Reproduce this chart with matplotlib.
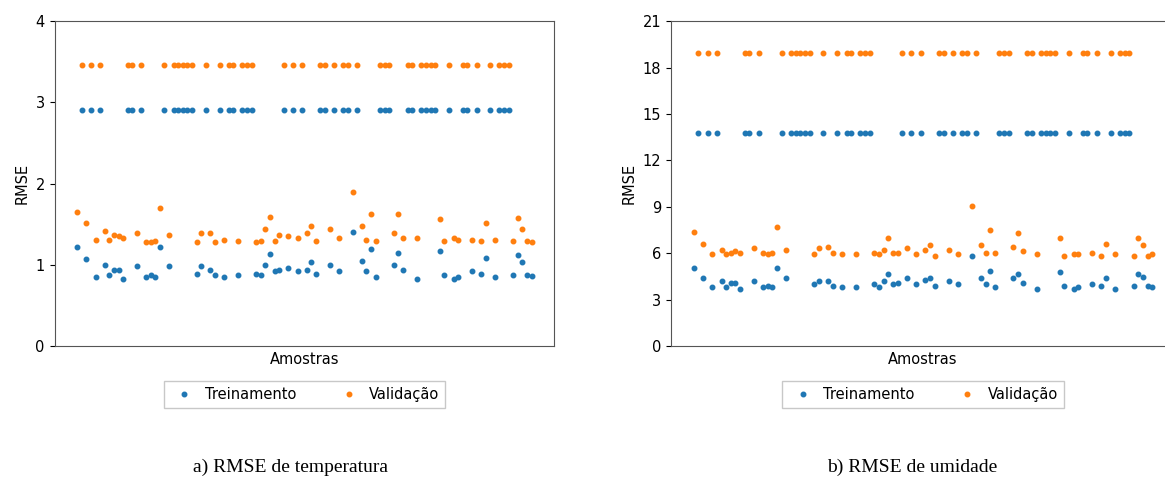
import numpy as np
import matplotlib
matplotlib.use("Agg")
import matplotlib.pyplot as plt

# 100 amostras; algumas ficam no patamar alto, as outras no baixo
n_amostras = 100
idx_alto = [1, 3, 5, 11, 12, 14, 19, 21, 22, 23, 24, 25, 28, 31, 33, 34, 36, 37, 38,
            45, 47, 49, 53, 54, 56, 58, 59, 61, 66, 67, 68, 72, 73, 75, 76, 77, 78,
            81, 84, 85, 87, 90, 92, 93, 94]

temp_treino_alto = 2.91
temp_valid_alto = 3.46
umid_treino_alto = 13.78
umid_valid_alto = 18.97

# valores das amostras restantes (em ordem de indice)
temp_treino_baixo = [1.22, 1.07, 0.85, 1.00, 0.87, 0.94, 0.94, 0.83, 0.98, 0.85, 0.87, 0.85,
                     1.22, 0.98, 0.89, 0.98, 0.94, 0.87, 0.85, 0.87, 0.89, 0.87, 1.00, 1.13,
                     0.92, 0.94, 0.96, 0.92, 0.94, 1.03, 0.89, 1.00, 0.92, 1.40, 1.05, 0.92,
                     1.19, 0.85, 1.00, 1.15, 0.94, 0.83, 1.17, 0.87, 0.83, 0.85, 0.92, 0.89,
                     1.08, 0.85, 0.87, 1.12, 1.04, 0.88, 0.86]
temp_valid_baixo = [1.65, 1.52, 1.31, 1.42, 1.30, 1.37, 1.35, 1.33, 1.39, 1.28, 1.28, 1.29,
                    1.70, 1.37, 1.28, 1.39, 1.39, 1.28, 1.31, 1.29, 1.28, 1.29, 1.44, 1.59,
                    1.29, 1.37, 1.35, 1.33, 1.39, 1.48, 1.29, 1.44, 1.33, 1.90, 1.48, 1.31,
                    1.63, 1.29, 1.39, 1.63, 1.33, 1.33, 1.57, 1.29, 1.33, 1.31, 1.31, 1.29,
                    1.52, 1.31, 1.29, 1.58, 1.44, 1.29, 1.28]
umid_treino_baixo = [5.06, 4.37, 3.79, 4.18, 3.79, 4.09, 4.09, 3.68, 4.18, 3.79, 3.90, 3.79,
                     5.06, 4.37, 3.98, 4.18, 4.18, 3.90, 3.79, 3.79, 3.98, 3.79, 4.18, 4.67,
                     3.98, 4.09, 4.37, 3.98, 4.26, 4.37, 3.90, 4.18, 3.98, 5.83, 4.37, 3.98,
                     4.87, 3.79, 4.37, 4.67, 4.09, 3.68, 4.76, 3.90, 3.68, 3.79, 3.98, 3.90,
                     4.37, 3.68, 3.90, 4.67, 4.48, 3.90, 3.79]
umid_valid_baixo = [7.36, 6.61, 5.92, 6.22, 5.92, 6.03, 6.12, 6.03, 6.31, 6.03, 5.92, 6.03,
                    7.67, 6.22, 5.92, 6.31, 6.41, 6.03, 5.92, 5.92, 6.03, 5.92, 6.22, 7.00,
                    6.03, 6.03, 6.31, 5.92, 6.22, 6.50, 5.83, 6.22, 5.92, 9.05, 6.50, 6.03,
                    7.47, 6.03, 6.41, 7.28, 6.12, 5.92, 7.00, 5.83, 5.92, 5.92, 6.03, 5.83,
                    6.61, 5.92, 5.83, 7.00, 6.50, 5.83, 5.92]

idx_baixo = [i for i in range(n_amostras) if i not in idx_alto]


def monta(alto, baixo):
    y = np.zeros(n_amostras)
    y[idx_alto] = alto
    y[idx_baixo] = baixo
    return y


x = np.arange(n_amostras)
fig = plt.figure(figsize=(11.65, 4.8), dpi=100)
ax1 = fig.add_axes([0.0468, 0.279, 0.429, 0.677])
ax2 = fig.add_axes([0.5758, 0.279, 0.433, 0.677])

paineis = [
    (ax1, monta(temp_treino_alto, temp_treino_baixo), monta(temp_valid_alto, temp_valid_baixo),
     [0, 1, 2, 3, 4]),
    (ax2, monta(umid_treino_alto, umid_treino_baixo), monta(umid_valid_alto, umid_valid_baixo),
     [0, 3, 6, 9, 12, 15, 18, 21]),
]

for ax, treino, valid, yt in paineis:
    ax.plot(x, treino, '.', color="#1f77b4", markersize=6.5, label="Treinamento")
    ax.plot(x, valid, '.', color="#ff7f0e", markersize=6.5, label="Validação")
    ax.set_ylim(yt[0], yt[-1])
    ax.set_yticks(yt)
    ax.set_xticks([])
    ax.tick_params(labelsize=10.5)
    ax.set_ylabel("RMSE", fontsize=10.5)
    ax.set_xlabel("Amostras", fontsize=10.5)
    for s in ax.spines.values():
        s.set_color("#555555")
    ax.legend(loc="upper center", bbox_to_anchor=(0.5, -0.085), ncol=2, fontsize=10.5,
              columnspacing=2.6, handletextpad=0.4, fancybox=False, edgecolor="#bbbbbb")

fig.text(0.249, 0.008, "a) RMSE de temperatura", family="Liberation Serif", fontsize=14,
         ha="center", va="bottom")
fig.text(0.783, 0.008, "b) RMSE de umidade", family="Liberation Serif", fontsize=14,
         ha="center", va="bottom")

fig.savefig("out.png", dpi=100)
